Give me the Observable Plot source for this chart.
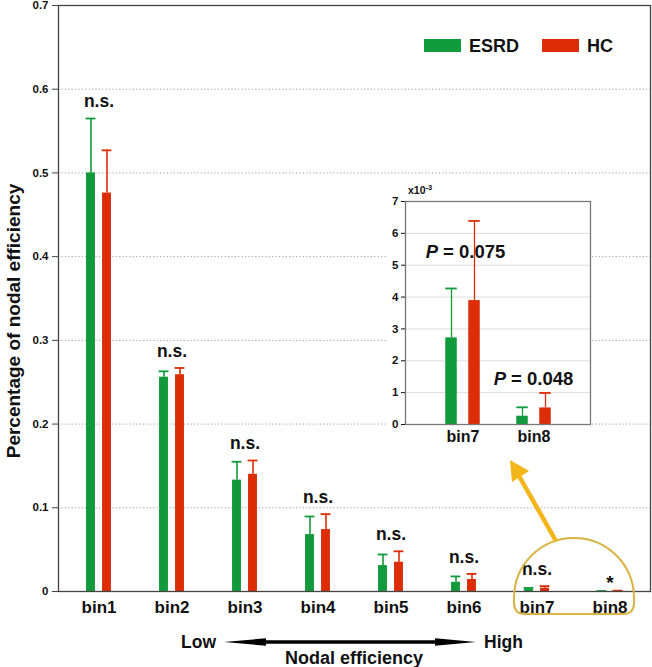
<!DOCTYPE html>
<html>
<head>
<meta charset="utf-8">
<script src="https://cdn.jsdelivr.net/npm/d3@7"></script>
<script src="https://cdn.jsdelivr.net/npm/@observablehq/plot@0.6"></script>
<style>
  body { margin: 0; background: #fff; }
  #wrap { position: relative; width: 652px; height: 667px; font-family: "Liberation Sans", Arial, sans-serif; }
  #wrap > svg { position: absolute; left: 0; top: 0; }
  #wrap > .inset { position: absolute; left: 388px; top: 183px; }
</style>
</head>
<body>
<div id="wrap"></div>
<script>
// ---------- data ----------
const bins = ["bin1", "bin2", "bin3", "bin4", "bin5", "bin6", "bin7", "bin8"];
const groups = ["ESRD", "HC"];
const esrdMean = [0.500, 0.256, 0.133, 0.068, 0.031, 0.011, 0.00272, 0.00026];
const esrdSD   = [0.065, 0.007, 0.022, 0.0216, 0.0132, 0.007, 0.00155, 0.00028];
const hcMean   = [0.476, 0.259, 0.140, 0.074, 0.035, 0.0143, 0.00389, 0.00052];
const hcSD     = [0.051, 0.008, 0.0165, 0.0184, 0.013, 0.0067, 0.0025, 0.00047];
const sigLabels = ["n.s.", "n.s.", "n.s.", "n.s.", "n.s.", "n.s.", "n.s.", "*"];
const yTicks = [0, 0.1, 0.2, 0.3, 0.4, 0.5, 0.6, 0.7];
const insetBins = ["bin7", "bin8"];
const insetTicks = [0, 1, 2, 3, 4, 5, 6, 7];
const insetScale = 1000; // inset axis in units of x10^-3
const pLabels = ["0.075", "0.048"];

// ---------- styles ----------
const GREEN = "#119a3b";
const RED = "#dc2d08";
const FONT = "'Liberation Sans', Arial, Helvetica, sans-serif";

const rows = bins.map((b, i) => ({
  bin: b, esrd: esrdMean[i], esrdSD: esrdSD[i], hc: hcMean[i], hcSD: hcSD[i], sig: sigLabels[i]
}));
const errTop = d => Math.max(d.esrd + d.esrdSD, d.hc + d.hcSD);

// main chart: band step ~73px, bars 9px wide, offset +-8px from bin centre
const mainBand = 73.1;
const barW = 9, off = 8;
const ins = (mainBand - barW) / 2;

const main = Plot.plot({
  width: 652, height: 667,
  marginLeft: 58, marginRight: 2, marginTop: 5, marginBottom: 76,
  style: { fontFamily: FONT, fontWeight: "bold", color: "#111", background: "transparent", overflow: "visible" },
  x: { domain: bins, paddingInner: 0, paddingOuter: 0.05, label: null, tickSize: 0, tickPadding: 9 },
  y: { domain: [0, 0.7], ticks: yTicks, tickFormat: d => d === 0 ? "0" : d3.format(".1f")(d),
       label: null, tickSize: 6, tickPadding: 4 },
  marks: [
    Plot.ruleY(yTicks.filter(t => t > 0 && t < 0.7), { stroke: "#9a9a9a", strokeWidth: 1, strokeDasharray: "1.2,2.2" }),
    // error bars
    Plot.ruleX(rows, { x: "bin", y1: "esrd", y2: d => d.esrd + d.esrdSD, stroke: GREEN, strokeWidth: 1.6, dx: -off }),
    Plot.ruleX(rows, { x: "bin", y1: "hc", y2: d => d.hc + d.hcSD, stroke: RED, strokeWidth: 1.6, dx: off }),
    Plot.tickY(rows, { x: "bin", y: d => d.esrd + d.esrdSD, stroke: GREEN, strokeWidth: 1.8, dx: -off, insetLeft: ins - 0.5, insetRight: ins - 0.5 }),
    Plot.tickY(rows, { x: "bin", y: d => d.hc + d.hcSD, stroke: RED, strokeWidth: 1.8, dx: off, insetLeft: ins - 0.5, insetRight: ins - 0.5 }),
    // bars
    Plot.barY(rows, { x: "bin", y: "esrd", fill: GREEN, dx: -off, insetLeft: ins, insetRight: ins }),
    Plot.barY(rows, { x: "bin", y: "hc", fill: RED, dx: off, insetLeft: ins, insetRight: ins }),
    // significance labels
    Plot.text(rows, { filter: d => d.sig === "n.s.", x: "bin", y: errTop, text: "sig", dy: -17, fontSize: 17.5, fontWeight: "bold", fill: "#111" }),
    Plot.text(rows, { filter: d => d.sig !== "n.s.", x: "bin", y: errTop, text: "sig", dy: -8, fontSize: 19, fontWeight: "bold", fill: "#111" }),
    Plot.frame({ stroke: "#444", strokeWidth: 1.3 })
  ]
});

const wrap = document.getElementById("wrap");
wrap.appendChild(main);

const ms = d3.select(main);
ms.selectAll('[aria-label^="x-axis"] text').style("font-size", "17px").style("font-weight", "bold");
ms.selectAll('[aria-label^="y-axis"] text').style("font-size", "11.5px").style("font-weight", "bold");
ms.selectAll('[aria-label^="y-axis"] line, [aria-label^="y-axis"] path').attr("stroke", "#444");

// annotations on the main chart
const ann = ms.append("g").attr("font-family", FONT).attr("font-weight", "bold")
  .attr("fill", "#111").attr("text-anchor", "start");

// y-axis title
ann.append("text")
  .attr("transform", "translate(13,321) rotate(-90)")
  .attr("text-anchor", "middle").attr("dy", "0.35em")
  .attr("font-size", 19).text("Percentage of nodal efficiency");

// legend
const legend = [{ g: groups[0], c: GREEN, x: 424 }, { g: groups[1], c: RED, x: 542 }];
legend.forEach(l => {
  ann.append("rect").attr("x", l.x).attr("y", 39).attr("width", 37).attr("height", 13).attr("fill", l.c);
  ann.append("text").attr("x", l.x + 45).attr("y", 46).attr("dy", "0.35em")
    .attr("text-anchor", "start").attr("font-size", 18).text(l.g);
});

// Low <-> High arrow and x title
ann.append("text").attr("x", 181).attr("y", 642).attr("dy", "0.35em").attr("text-anchor", "start")
  .attr("font-size", 17.5).text("Low");
ann.append("text").attr("x", 484).attr("y", 642).attr("dy", "0.35em").attr("text-anchor", "start")
  .attr("font-size", 17.5).text("High");
ann.append("polygon").attr("fill", "#000").attr("points",
  "224,642 266,638.3 266,640.2 435,640.2 435,638.3 476,642 435,645.7 435,643.8 266,643.8 266,645.7");
ann.append("text").attr("x", 354).attr("y", 658).attr("dy", "0.35em").attr("text-anchor", "middle")
  .attr("font-size", 18).text("Nodal efficiency");

// highlight around bin7/bin8
ann.append("path").attr("fill", "none").attr("stroke", "#d9b444").attr("stroke-width", 2)
  .attr("d", "M514,598 A60,60 0 0 1 634,598 L634,603 Q634,614 623,614 L525,614 Q514,614 514,603 Z");
// yellow arrow to inset
ann.append("line").attr("x1", 556).attr("y1", 541).attr("x2", 519).attr("y2", 476)
  .attr("stroke", "#f4b518").attr("stroke-width", 4.5);
ann.append("polygon").attr("fill", "#f4b518").attr("points", "510,460 529,471 512,482");

// ---------- inset ----------
const insetRows = insetBins.map(b => {
  const i = bins.indexOf(b);
  return { bin: b, esrd: esrdMean[i] * insetScale, esrdSD: esrdSD[i] * insetScale,
           hc: hcMean[i] * insetScale, hcSD: hcSD[i] * insetScale, p: pLabels[insetBins.indexOf(b)] };
});
const insetBand = 71.5, iBarW = 12, iOff = 11.5;
const iIns = (insetBand - iBarW) / 2;

const inset = Plot.plot({
  width: 204, height: 265,
  marginLeft: 17, marginRight: 2, marginTop: 18, marginBottom: 24,
  style: { fontFamily: FONT, fontWeight: "bold", color: "#111", background: "#fff", overflow: "visible" },
  x: { domain: insetBins, paddingInner: 0, paddingOuter: 0.29, label: null, tickSize: 0, tickPadding: 6 },
  y: { domain: [0, 7], ticks: insetTicks, tickFormat: d3.format("d"), label: null, tickSize: 4, tickPadding: 3 },
  marks: [
    Plot.ruleY(insetTicks.filter(t => t > 0 && t < 7), { stroke: "#dcdcdc", strokeWidth: 1 }),
    Plot.ruleX(insetRows, { x: "bin", y1: "esrd", y2: d => d.esrd + d.esrdSD, stroke: GREEN, strokeWidth: 1.3, dx: -iOff }),
    Plot.ruleX(insetRows, { x: "bin", y1: "hc", y2: d => d.hc + d.hcSD, stroke: RED, strokeWidth: 1.3, dx: iOff }),
    Plot.tickY(insetRows, { x: "bin", y: d => d.esrd + d.esrdSD, stroke: GREEN, strokeWidth: 1.8, dx: -iOff, insetLeft: iIns, insetRight: iIns }),
    Plot.tickY(insetRows, { x: "bin", y: d => d.hc + d.hcSD, stroke: RED, strokeWidth: 1.8, dx: iOff, insetLeft: iIns, insetRight: iIns }),
    Plot.barY(insetRows, { x: "bin", y: "esrd", fill: GREEN, dx: -iOff, insetLeft: iIns, insetRight: iIns }),
    Plot.barY(insetRows, { x: "bin", y: "hc", fill: RED, dx: iOff, insetLeft: iIns, insetRight: iIns }),
    Plot.frame({ stroke: "#777", strokeWidth: 1.3 })
  ]
});
inset.classList.add("inset");
wrap.appendChild(inset);

const is = d3.select(inset);
is.selectAll('[aria-label^="x-axis"] text').style("font-size", "16px").style("font-weight", "bold");
is.selectAll('[aria-label^="y-axis"] text').style("font-size", "11.5px").style("font-weight", "bold");

// exponent label and P values, placed with the inset's scales
const ix = inset.scale("x"), iy = inset.scale("y");
const ia = is.append("g").attr("font-family", FONT).attr("font-weight", "bold").attr("fill", "#111");
const ex = ia.append("text").attr("x", 20).attr("y", 11).attr("text-anchor", "start").attr("font-size", 10.5);
ex.append("tspan").text("x10");
ex.append("tspan").attr("dy", -4).attr("font-size", 7.5).text("-3");

const pPos = [{ row: insetRows[0], y: 5.42 }, { row: insetRows[1], y: 1.44 }];
pPos.forEach(({ row, y }) => {
  const cx = ix.apply(row.bin) + ix.bandwidth / 2 + (row.bin === "bin7" ? 3 : 0);
  const t = ia.append("text").attr("x", cx).attr("y", iy.apply(y)).attr("dy", "0.35em")
    .attr("text-anchor", "middle").attr("font-size", 18.5);
  t.append("tspan").attr("font-style", "italic").text("P");
  t.append("tspan").text(" = " + row.p);
});
</script>
</body>
</html>
